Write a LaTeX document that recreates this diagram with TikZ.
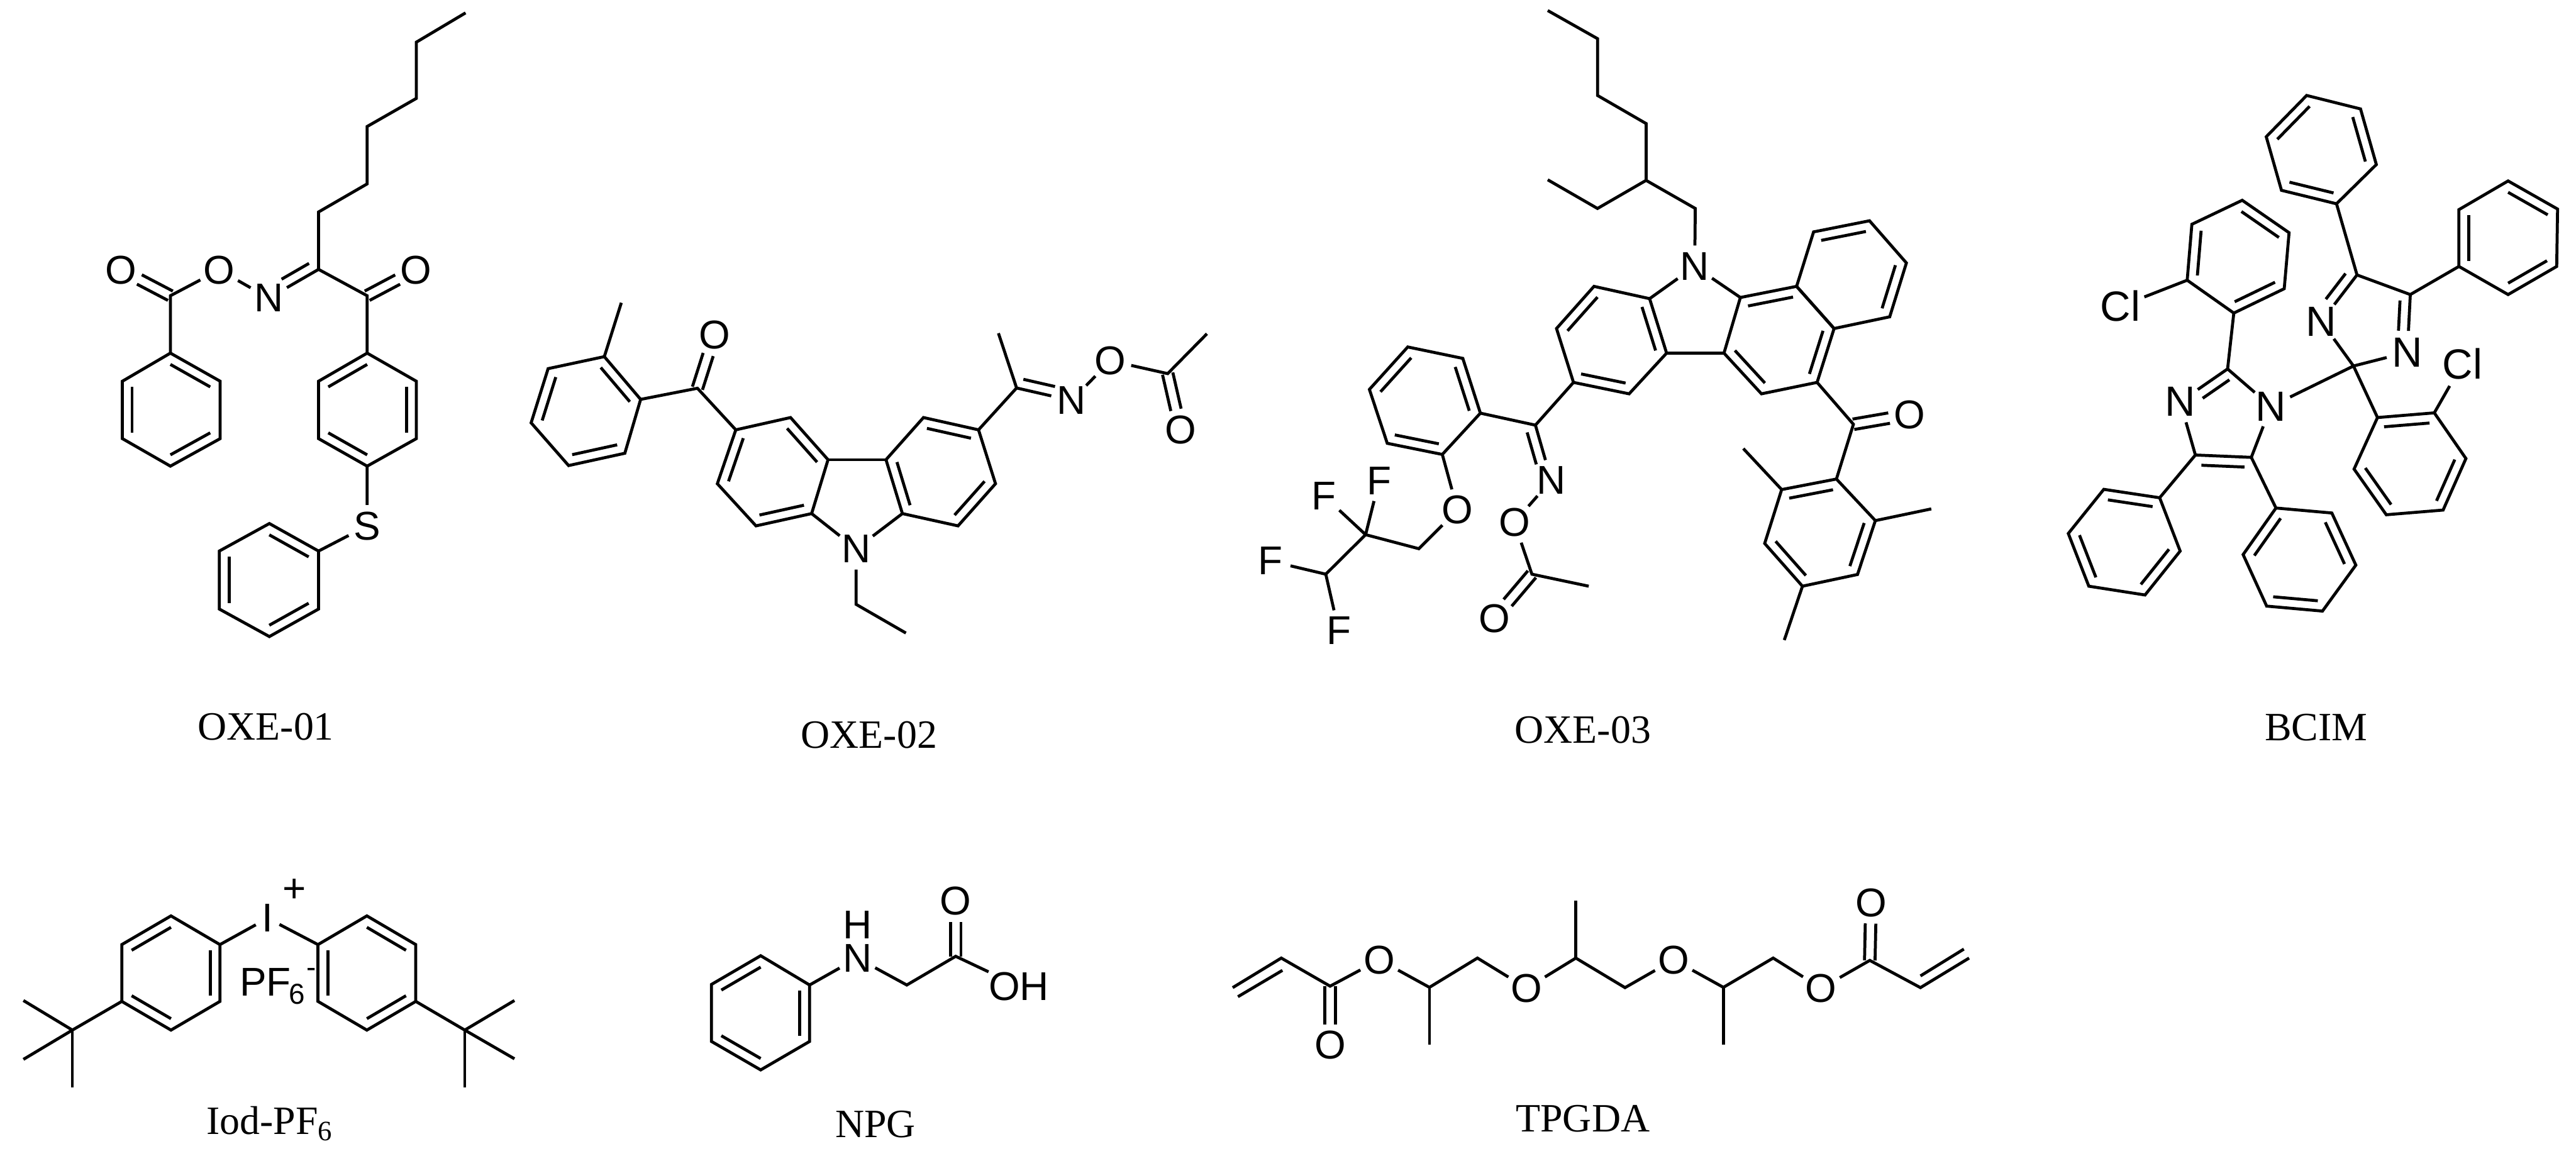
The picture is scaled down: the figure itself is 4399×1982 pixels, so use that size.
\documentclass[tikz,border=0pt]{standalone}
\usepackage{fontspec}
\usetikzlibrary{calc}
\setmainfont{Liberation Serif}
\newfontfamily\chemfont{Liberation Sans}
\tikzset{
  bond/.style={line width=1.45pt,black},
  atom/.style={circle,inner sep=0pt,minimum size=.7cm,font=\chemfont\fontsize{19.5}{23}\selectfont},
  bigatom/.style={atom,font=\chemfont\fontsize{20.5}{24}\selectfont},
  label/.style={anchor=base,inner sep=0pt,font=\fontsize{19.5}{24}\selectfont},
  small/.style={inner sep=0pt,font=\chemfont\fontsize{14}{16}\selectfont}
}
\newcommand\C[2]{\coordinate (#1) at (#2);}
\newcommand\A[3]{\node[atom] (#1) at (#2) {#3};}
\newcommand\AB[3]{\node[bigatom] (#1) at (#2) {#3};}
\newcommand\inb[3]{\draw[bond] ($(#1#2)!.2!(#1c)$) -- ($(#1#3)!.2!(#1c)$);}
\newcommand\hexa[7]{%
  \C{#11}{#2}\C{#12}{#3}\C{#13}{#4}\C{#14}{#5}\C{#15}{#6}\C{#16}{#7}%
  \coordinate (#1c) at ($(#11)!.5!(#14)$);%
  \draw[bond] (#11)--(#12)--(#13)--(#14)--(#15)--(#16)--cycle;}
\newcommand\benz[7]{\hexa{#1}{#2}{#3}{#4}{#5}{#6}{#7}\inb{#1}{1}{2}\inb{#1}{3}{4}\inb{#1}{5}{6}}
% symmetric double bond, C=O
\newcommand\cdbl[2]{%
  \draw[bond,shorten >=.35cm] ($(#1.center)!.09cm!90:(#2.center)$) -- ($(#2.center)!.09cm!-90:(#1.center)$);%
  \draw[bond,shorten >=.35cm] ($(#1.center)!.09cm!-90:(#2.center)$) -- ($(#2.center)!.09cm!90:(#1.center)$);}
% second line of a double bond, left or right of the travel a->b
\newcommand\sbL[4]{\draw[bond,shorten <=#3,shorten >=#4] ($(#1.center)!.17cm!90:(#2.center)$) -- ($(#2.center)!.17cm!-90:(#1.center)$);}
\newcommand\sbR[4]{\draw[bond,shorten <=#3,shorten >=#4] ($(#1.center)!.17cm!-90:(#2.center)$) -- ($(#2.center)!.17cm!90:(#1.center)$);}
\begin{document}
\begin{tikzpicture}[x=0.01cm,y=-0.01cm]
\path[use as bounding box,fill=white] (0,0) rectangle (4399,1982);

% ---------- OXE-01
\C{a1}{795,22}\C{a2}{711,72}\C{a3}{711,168}\C{a4}{627,216}\C{a5}{627,314}\C{a6}{544,362}\C{a7}{544,460}
\C{a8}{627,505}\C{a9}{291,505}
\A{ao1}{710,461}{O}\A{an}{459,509}{N}\A{ao2}{374.5,461}{O}\A{ao3}{207,461}{O}\A{as}{627,898}{S}
\benz{ar}{627,603}{544,651}{544,749}{627,796}{711,749}{711,651}
\benz{aq}{291,603}{376,651}{376,749}{291,796}{209,749}{209,651}
\benz{ap}{544,941}{460,894}{374.5,941}{374.5,1040}{460,1087}{544,1040}
\draw[bond] (a1)--(a2)--(a3)--(a4)--(a5)--(a6)--(a7)--(a8)--(ar1);
\draw[bond] (a7)--(an)--(ao2)--(a9)--(aq1);
\sbR{a7}{an}{.09cm}{.35cm}
\cdbl{a8}{ao1}\cdbl{a9}{ao3}
\draw[bond] (ar4)--(as)--(ap1);
\node[label] (capa) at (454,1264) {OXE-01};

% ---------- OXE-02
\benz{bt}{1032,609}{1094,682}{1067,774}{971,795}{907,722}{936,629.5}
\benz{bl}{1350,713}{1414,785}{1386,877}{1291,898}{1225,826}{1256.5,734}
\benz{br}{1577,713}{1671,734}{1700,826}{1636,898}{1541,877}{1513,785}
\C{bm}{1061,517}\C{bc}{1191,663}\C{be1}{1462,1032}\C{be2}{1547,1081}
\C{bd}{1736,662.5}\C{bm2}{1705,569}\C{bf}{1994,638}\C{bm3}{2061,570}
\A{bo}{1220,572}{O}\A{bn}{1462,937}{N}\A{bn2}{1830,684}{N}\A{bo2}{1896,616}{O}\A{bo3}{2016,734}{O}
\draw[bond] (bm)--(bt1);
\draw[bond] (bt2)--(bc)--(bl6);
\cdbl{bc}{bo}
\draw[bond] (bl2)--(br6);
\draw[bond] (bl3)--(bn)--(br5);
\draw[bond] (bn)--(be1)--(be2);
\draw[bond] (br2)--(bd)--(bm2);
\draw[bond] (bd)--(bn2)--(bo2)--(bf)--(bm3);
\sbL{bd}{bn2}{.08cm}{.33cm}
\cdbl{bf}{bo3}
\node[label] (capb) at (1484,1278) {OXE-02};

% ---------- OXE-03
\C{c1}{2643,18}\C{c2}{2728,66}\C{c3}{2728,163}\C{c4}{2811,211}\C{c5}{2811,308}\C{c6}{2728,356}\C{c7}{2643,307}\C{c8}{2895,356}
\A{cn}{2894,455}{N}
\benz{cl}{2722,489}{2658,561}{2687,653}{2782,672.5}{2846,603}{2817,510}
\benz{cm}{2972,508}{3068,489}{3132,561}{3103,653}{3008,672.5}{2944,603}
\hexa{cr}{3097,396}{3192.5,377}{3255.5,449}{3227,541}{3132,561}{3068,489}
\inb{cr}{1}{2}\inb{cr}{3}{4}
\benz{cs}{3136,818}{3042.5,836}{3013.5,928}{3078,1001}{3172,981}{3202.5,889}
\benz{ct}{2528,705.5}{2498,612}{2404,592.5}{2338.5,665}{2369,757}{2463,776}
\C{ck}{3165,724.5}\C{cx1}{2977,766}\C{cx2}{3298,869}\C{cx3}{3047,1093}
\C{cd}{2622,726}\C{ce}{2616,980.5}\C{cy}{2713,1001}
\C{cg}{2423,937}\C{ch}{2332,913}\C{ci}{2264,980.5}
\A{co}{3260.5,708}{O}\A{cn2}{2649,820}{N}\A{co2}{2586,892}{O}\A{co3}{2552,1056}{O}\A{co4}{2489,871}{O}
\A{cf1}{2355,821}{F}\A{cf2}{2261,847}{F}\A{cf3}{2169,958}{F}\A{cf4}{2286,1077}{F}
\draw[bond] (c1)--(c2)--(c3)--(c4)--(c5)--(c6)--(c7);
\draw[bond] (c5)--(c8)--(cn);
\draw[bond] (cl6)--(cn)--(cm1);
\draw[bond] (cl5)--(cm6);
\draw[bond] (cm4)--(ck)--(cs1);
\cdbl{ck}{co}
\draw[bond] (cs2)--(cx1);\draw[bond] (cs6)--(cx2);\draw[bond] (cs4)--(cx3);
\draw[bond] (cl3)--(cd)--(ct1);
\draw[bond] (cd)--(cn2)--(co2)--(ce)--(cy);
\sbR{cd}{cn2}{.08cm}{.33cm}
\cdbl{ce}{co3}
\draw[bond] (ct6)--(co4)--(cg)--(ch)--(ci);
\draw[bond] (ch)--(cf1);\draw[bond] (ch)--(cf2);
\draw[bond] (ci)--(cf3);\draw[bond] (ci)--(cf4);
\node[label] (capc) at (2703,1269) {OXE-03};

% ---------- BCIM
\benz{dt}{3939,163}{3870,233.5}{3896,325}{3990,348}{4058,281}{4031,186}
\benz{du}{4199,455}{4199,358}{4283,309}{4367.5,357}{4366,455}{4283,503}
\benz{dv}{4060,713}{4157,705}{4211,783}{4172,871}{4075,879}{4020,801}
\benz{dw}{3735,478.5}{3743,383}{3829,342}{3909,397.4}{3900.7,493}{3814.6,534.6}
\benz{dx}{3688,850}{3592.6,835.6}{3532,911}{3567,1001}{3663,1016}{3723,941}
\benz{dy}{3886.6,867.5}{3830.5,947}{3870.7,1035}{3966,1043.5}{4023,965}{3982,876}
\C{d1}{4025,469.5}\C{d2}{4116,503}\C{d3}{4019,625}\C{d4}{3804,630}\C{d5}{3749,777}\C{d6}{3844.5,781}
\AB{dn1}{3964,549}{N}\AB{dn2}{4111,601.5}{N}\AB{dn3}{3878,694}{N}\AB{dn4}{3723,686}{N}
\AB{dcl1}{4205,621}{Cl}\AB{dcl2}{3621,523}{Cl}
\draw[bond] (dt4)--(d1)--(d2)--(du1);
\draw[bond] (d1)--(dn1)--(d3)--(dn2)--(d2);
\sbR{d1}{dn1}{.1cm}{.35cm}
\sbR{d2}{dn2}{.11cm}{.36cm}
\draw[bond] (d3)--(dn3)--(d4)--(dn4)--(d5)--(d6)--(dn3);
\sbL{d4}{dn4}{.08cm}{.35cm}
\sbR{d5}{d6}{.11cm}{.11cm}
\draw[bond] (d3)--(dv1);\draw[bond] (dv2)--(dcl1);
\draw[bond] (d4)--(dw6);\draw[bond] (dw1)--(dcl2);
\draw[bond] (d5)--(dx1);\draw[bond] (d6)--(dy1);
\node[label] (capd) at (3955,1265) {BCIM};

% ---------- Iod-PF6
\benz{er}{292,1564}{208,1613}{208,1710}{292,1759}{375.6,1710}{375.6,1613}
\benz{es}{626.5,1564}{710,1613}{710,1710}{626.5,1759}{543,1710}{543,1613}
\node[atom,shape=rectangle,minimum size=0pt,inner xsep=.1cm] (ei) at (457,1568) {I};
\node[atom] (eplus) at (503,1521) {+};
\node[atom,minimum size=0pt] (epf) at (453,1677) {PF};
\node[small] (esix) at (507,1698) {6};
\node[small] (eminus) at (532,1661) {-};
\draw[bond] (er6)--(ei)--(es6);
\C{ea}{123.6,1759}\C{ea1}{40,1708.5}\C{ea2}{40,1809}\C{ea3}{123.6,1857}
\C{eb}{793.7,1759}\C{eb1}{878.5,1708.5}\C{eb2}{878.5,1808}\C{eb3}{793.7,1857}
\draw[bond] (er3)--(ea);\draw[bond] (ea1)--(ea);\draw[bond] (ea2)--(ea);\draw[bond] (ea3)--(ea);
\draw[bond] (es3)--(eb);\draw[bond] (eb1)--(eb);\draw[bond] (eb2)--(eb);\draw[bond] (eb3)--(eb);
\node[label] (cape) at (461,1937) {Iod-PF\textsubscript{6}};

% ---------- NPG
\benz{fr}{1299,1632}{1215,1681}{1215,1778.4}{1299,1827}{1382.5,1778.4}{1382.5,1682}
\node[atom,minimum size=0pt] (fn) at (1464,1636) {N};
\node[atom,shape=rectangle,minimum size=0pt] (fh) at (1464,1579) {H};
\A{fo}{1632,1539}{O}\A{foh}{1740,1684}{OH}
\C{f1}{1548.5,1682}\C{f2}{1632,1633}
\draw[bond] (fr6)--(fn)--(f1)--(f2)--(foh);
\cdbl{f2}{fo}
\node[label] (capf) at (1495,1942) {NPG};

% ---------- TPGDA
\C{g0}{2105,1686.5}\C{g1}{2188,1636}\C{g2}{2271.4,1684}\C{g3}{2441,1686}\C{g4}{2441,1784}\C{g5}{2523,1636}
\C{g6}{2691,1636}\C{g7}{2691,1538}\C{g8}{2775,1686.5}\C{g9}{2943,1686}\C{g10}{2943,1784}\C{g11}{3028,1636}
\C{g12}{3193,1640}\C{g13}{3279.5,1686.5}\C{g14}{3362.6,1636}
\C{gi1}{2114,1702}\C{gi2}{2190,1657}\C{gi3}{3279.5,1666.5}\C{gi4}{3353.6,1620.7}
\A{go1}{2271.4,1784}{O}\A{go2}{2355.4,1639}{O}\A{go3}{2607,1687.5}{O}\A{go4}{2858,1639}{O}\A{go5}{3110,1687.5}{O}\A{go6}{3195,1542}{O}
\draw[bond] (g0)--(g1)--(g2)--(go2)--(g3)--(g5)--(go3)--(g6)--(g8)--(go4)--(g9)--(g11)--(go5)--(g12)--(g13)--(g14);
\draw[bond] (gi1)--(gi2);\draw[bond] (gi3)--(gi4);
\draw[bond] (g3)--(g4);\draw[bond] (g6)--(g7);\draw[bond] (g9)--(g10);
\cdbl{g2}{go1}\cdbl{g12}{go6}
\node[label] (capg) at (2703,1933) {TPGDA};
\end{tikzpicture}
\end{document}
